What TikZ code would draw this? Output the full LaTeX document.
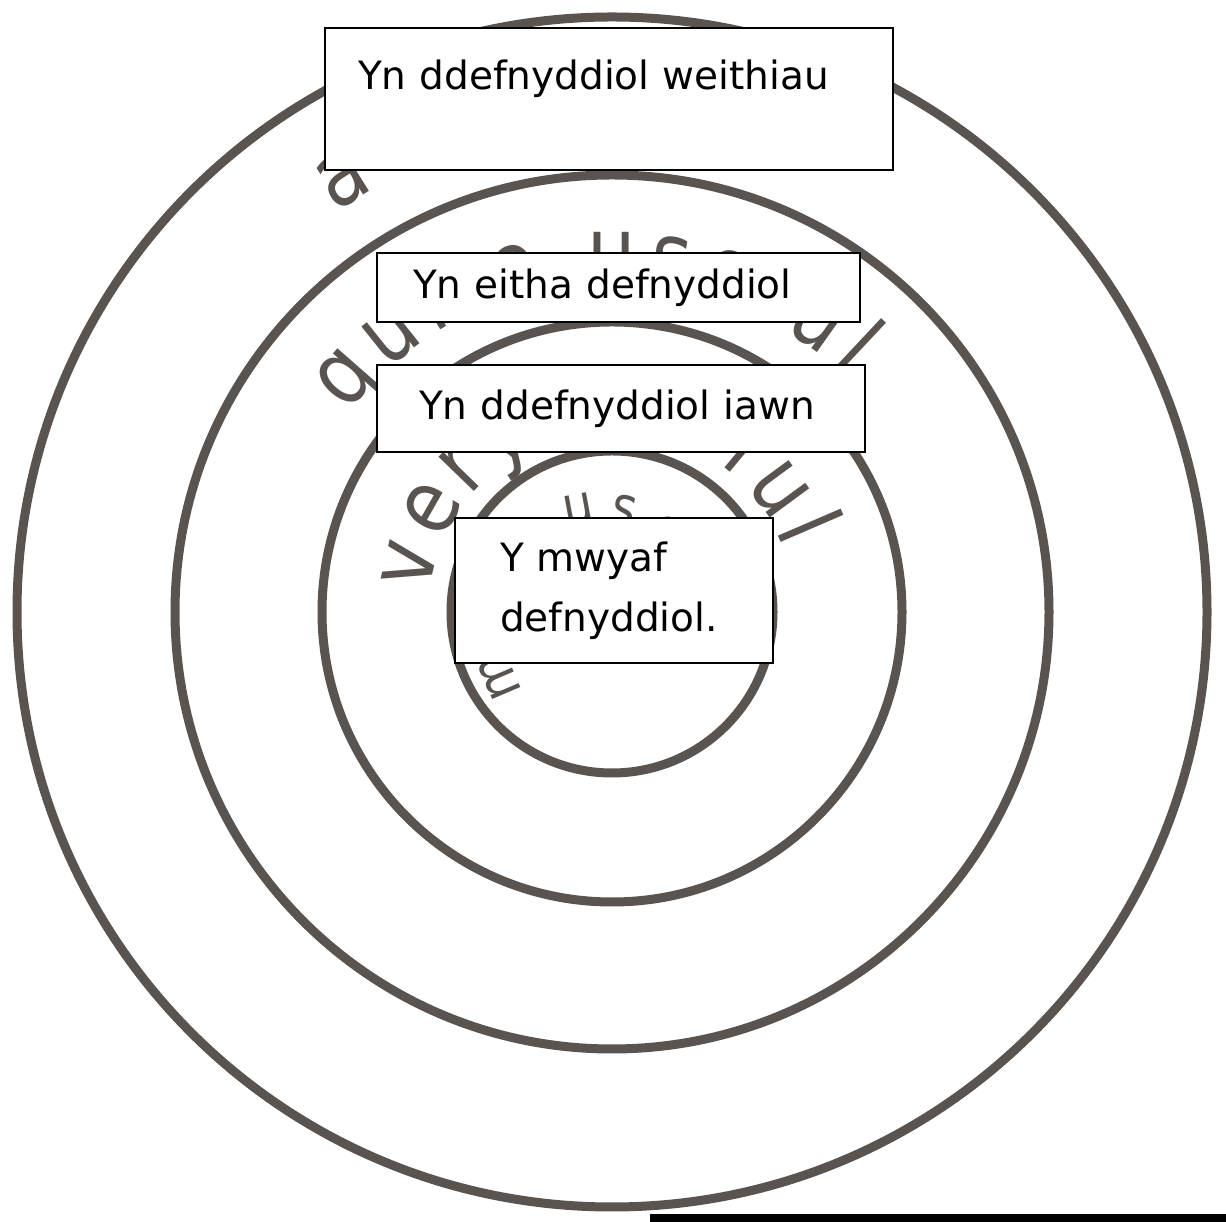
\documentclass[tikz,border=0pt]{standalone}
\usepackage{fontspec}
\setmainfont{DejaVu Sans}
\newfontfamily\handfamily{DejaVu Sans}[FakeStretch=0.85]
\usetikzlibrary{decorations.text}

\definecolor{ringgrey}{HTML}{5A5450}
\newcommand{\boxfont}{\fontsize{39}{48}\selectfont}
\newcommand{\handbig}{\handfamily\fontsize{90}{90}\selectfont}
\newcommand{\handsmall}{\handfamily\fontsize{56}{56}\selectfont}

\tikzset{
  ring/.style={draw=ringgrey, line width=9pt},
  labelbox/.style={draw, fill=white, line width=1.5pt, align=left, font=\boxfont, inner ysep=0pt},
  handarc/.style={decorate, decoration={text along path, text align=fit to path, text color=ringgrey, #1}},
}

\begin{document}
\begin{tikzpicture}[x=1pt,y=1pt]
    \useasboundingbox (0,0) rectangle (1226,1222);
    \fill[white] (0,0) rectangle (1226,1222);
    \coordinate (C) at (612,610);
    % the four rings
    \foreach \r in {595,437,290,161}
        \draw[ring] (C) circle[radius=\r];
    % pencil words behind the boxes
    \path (355,1022) node[anchor=base, rotate=32, text=ringgrey, font=\handbig] (hwa) {a};
    \path[handarc={text={|\handbig|quite useful}}] (C) ++(143:330) arc[start angle=143, end angle=45, radius=330];
    \path[handarc={text={|\handbig|very useful}}] (C) ++(174:183) arc[start angle=174, end angle=20, radius=183];
    \path[handarc={text={|\handsmall|most useful}}]
        plot[variable=\t, domain=222:-28, samples=90] ({612+(90+0.22*(\t-100))*cos(\t)}, {610+(90+0.22*(\t-100))*sin(\t)});
    % the labels
    \node[labelbox, text width=502pt, inner xsep=33pt, minimum height=142pt] (weithiau) at (609,1123) {Yn ddefnyddiol weithiau\\ \mbox{}};
    \node[labelbox, text width=411pt, inner xsep=36pt, minimum height=69pt] (eitha) at (618.5,934.5) {Yn eitha defnyddiol};
    \node[labelbox, text width=404pt, inner xsep=42pt, minimum height=87pt] (iawn) at (621,813.5) {Yn ddefnyddiol iawn};
    \node[labelbox, text width=228pt, inner xsep=45pt, minimum height=145pt, font=\fontsize{39}{60}\selectfont] (mwyaf) at (614,631.5) {Y mwyaf\\defnyddiol.};
    \fill (650,0) rectangle (1226,8);
\end{tikzpicture}
\end{document}
